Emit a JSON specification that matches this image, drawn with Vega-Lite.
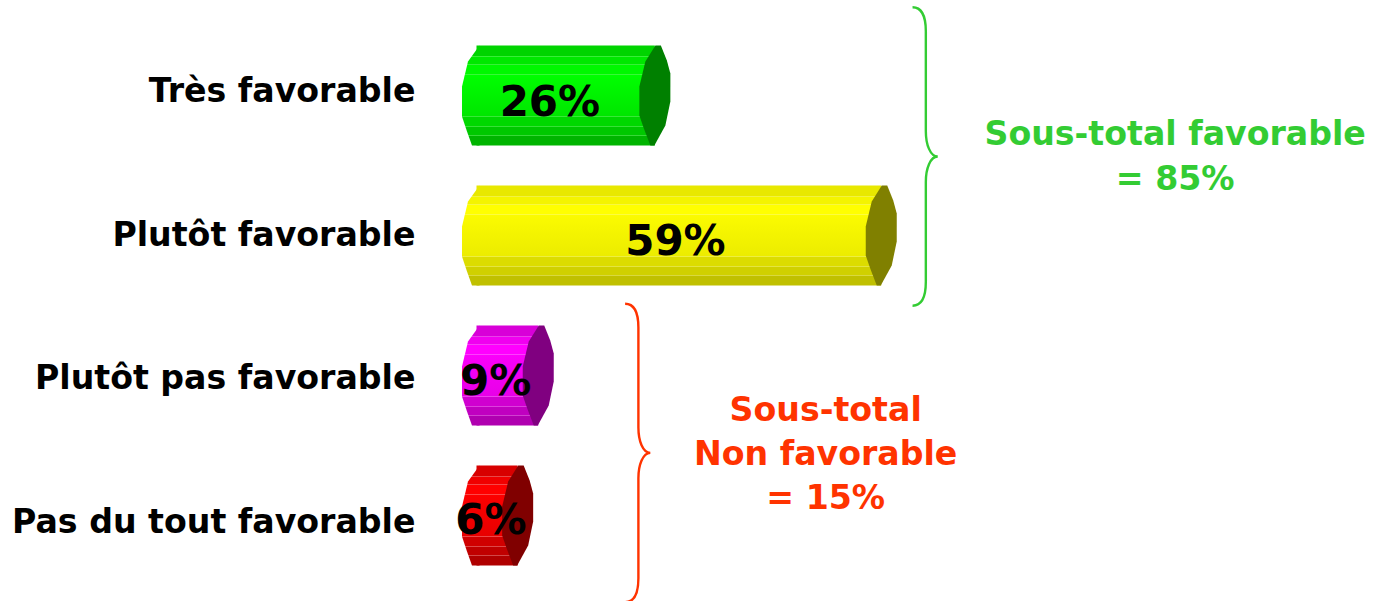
{"$schema":"https://vega.github.io/schema/vega-lite/v6.json","autosize":{"type":"none"},"padding":{"left":462,"top":0,"right":0,"bottom":0},"width":918,"height":601,"background":"white","view":{"stroke":null},"config":{"text":{"font":"DejaVu Sans","fontWeight":"bold"}},"datasets":{"reponses":[{"categorie":"Très favorable","valeur":26,"etiquette":"26%"},{"categorie":"Plutôt favorable","valeur":59,"etiquette":"59%"},{"categorie":"Plutôt pas favorable","valeur":9,"etiquette":"9%"},{"categorie":"Pas du tout favorable","valeur":6,"etiquette":"6%"}],"sous_totaux":[{"groupe":"Favorable","sous_total":85,"texte":"Sous-total favorable\n= 85%"},{"groupe":"Non favorable","sous_total":15,"texte":"Sous-total\nNon favorable\n= 15%"}]},"encoding":{"x":{"type":"quantitative","scale":{"domain":[-2.114,131.706],"nice":false,"zero":false},"axis":null}},"resolve":{"scale":{"y":"independent"}},"layer":[{"data":{"name":"reponses"},"mark":{"type":"point","opacity":0},"encoding":{"x":{"datum":0},"y":{"field":"categorie","type":"nominal","sort":null,"scale":{"domain":["Très favorable","Plutôt favorable","Plutôt pas favorable","Pas du tout favorable"],"range":[19.65,594.35],"paddingInner":0,"paddingOuter":0},"axis":{"title":null,"domain":false,"ticks":false,"grid":false,"labelPadding":47,"labelFont":"DejaVu Sans","labelFontWeight":"bold","labelFontSize":33.2,"labelColor":"#000000","labelLimit":500}}}},{"data":{"name":"reponses"},"encoding":{"y":{"field":"categorie","type":"nominal","sort":null,"scale":{"domain":["Très favorable","Plutôt favorable","Plutôt pas favorable","Pas du tout favorable"],"range":[25.5,585.5],"paddingInner":0.2857,"paddingOuter":0.1429},"axis":null}},"layer":[{"transform":[{"filter":"datum.categorie === 'Très favorable'"}],"layer":[{"mark":{"type":"bar","fill":{"gradient":"linear","x1":0,"y1":0,"x2":0,"y2":1,"stops":[{"offset":0,"color":"#00d400"},{"offset":0.105,"color":"#00d400"},{"offset":0.105,"color":"#38ee38"},{"offset":0.115,"color":"#38ee38"},{"offset":0.115,"color":"#00e800"},{"offset":0.185,"color":"#00e800"},{"offset":0.185,"color":"#38f038"},{"offset":0.195,"color":"#38f038"},{"offset":0.195,"color":"#00f800"},{"offset":0.285,"color":"#00f800"},{"offset":0.285,"color":"#38f838"},{"offset":0.295,"color":"#38f838"},{"offset":0.295,"color":"#00ff00"},{"offset":0.705,"color":"#00e600"},{"offset":0.705,"color":"#38e838"},{"offset":0.715,"color":"#38e838"},{"offset":0.715,"color":"#00d800"},{"offset":0.805,"color":"#00d800"},{"offset":0.805,"color":"#38e038"},{"offset":0.815,"color":"#38e038"},{"offset":0.815,"color":"#00c800"},{"offset":0.895,"color":"#00c800"},{"offset":0.895,"color":"#38d838"},{"offset":0.905,"color":"#38d838"},{"offset":0.905,"color":"#00b400"},{"offset":1,"color":"#00b400"}]}},"encoding":{"x":{"field":"valeur","type":"quantitative"}}},{"mark":{"type":"point","filled":true,"opacity":1,"size":10000,"shape":"M0.06 -1L-0.17 -0.68L-0.29 -0.18L-0.29 0.42L-0.19 0.72L-0.09 1L0.06 1Z","fill":{"gradient":"linear","x1":0,"y1":0,"x2":0,"y2":1,"stops":[{"offset":0,"color":"#00d400"},{"offset":0.105,"color":"#00d400"},{"offset":0.105,"color":"#38ee38"},{"offset":0.115,"color":"#38ee38"},{"offset":0.115,"color":"#00e800"},{"offset":0.185,"color":"#00e800"},{"offset":0.185,"color":"#38f038"},{"offset":0.195,"color":"#38f038"},{"offset":0.195,"color":"#00f800"},{"offset":0.285,"color":"#00f800"},{"offset":0.285,"color":"#38f838"},{"offset":0.295,"color":"#38f838"},{"offset":0.295,"color":"#00ff00"},{"offset":0.705,"color":"#00e600"},{"offset":0.705,"color":"#38e838"},{"offset":0.715,"color":"#38e838"},{"offset":0.715,"color":"#00d800"},{"offset":0.805,"color":"#00d800"},{"offset":0.805,"color":"#38e038"},{"offset":0.815,"color":"#38e038"},{"offset":0.815,"color":"#00c800"},{"offset":0.895,"color":"#00c800"},{"offset":0.895,"color":"#38d838"},{"offset":0.905,"color":"#38d838"},{"offset":0.905,"color":"#00b400"},{"offset":1,"color":"#00b400"}]}},"encoding":{"x":{"datum":0}}},{"mark":{"type":"point","filled":true,"opacity":1,"size":10000,"fill":"#008000","shape":"M0.12 -1L0.24 -0.7L0.31 -0.44L0.31 0.12L0.21 0.6L-0.01 1L-0.09 1L-0.22 0.66L-0.31 0.4L-0.31 -0.18L-0.19 -0.68L0.01 -1Z"},"encoding":{"x":{"field":"valeur","type":"quantitative"}}},{"mark":{"type":"text","fontSize":42,"dy":7.5,"color":"#000000"},"encoding":{"x":{"datum":10.7},"text":{"field":"etiquette"}}}]},{"transform":[{"filter":"datum.categorie === 'Plutôt favorable'"}],"layer":[{"mark":{"type":"bar","fill":{"gradient":"linear","x1":0,"y1":0,"x2":0,"y2":1,"stops":[{"offset":0,"color":"#e8e800"},{"offset":0.105,"color":"#e8e800"},{"offset":0.105,"color":"#f2f240"},{"offset":0.115,"color":"#f2f240"},{"offset":0.115,"color":"#f4f400"},{"offset":0.185,"color":"#f4f400"},{"offset":0.185,"color":"#f8f840"},{"offset":0.195,"color":"#f8f840"},{"offset":0.195,"color":"#ffff00"},{"offset":0.285,"color":"#ffff00"},{"offset":0.285,"color":"#fcfc40"},{"offset":0.295,"color":"#fcfc40"},{"offset":0.295,"color":"#fbfb00"},{"offset":0.705,"color":"#ecec00"},{"offset":0.705,"color":"#eeee40"},{"offset":0.715,"color":"#eeee40"},{"offset":0.715,"color":"#dcdc00"},{"offset":0.805,"color":"#dcdc00"},{"offset":0.805,"color":"#e4e440"},{"offset":0.815,"color":"#e4e440"},{"offset":0.815,"color":"#d0d000"},{"offset":0.895,"color":"#d0d000"},{"offset":0.895,"color":"#d8d840"},{"offset":0.905,"color":"#d8d840"},{"offset":0.905,"color":"#c0c000"},{"offset":1,"color":"#c0c000"}]}},"encoding":{"x":{"field":"valeur","type":"quantitative"}}},{"mark":{"type":"point","filled":true,"opacity":1,"size":10000,"shape":"M0.06 -1L-0.17 -0.68L-0.29 -0.18L-0.29 0.42L-0.19 0.72L-0.09 1L0.06 1Z","fill":{"gradient":"linear","x1":0,"y1":0,"x2":0,"y2":1,"stops":[{"offset":0,"color":"#e8e800"},{"offset":0.105,"color":"#e8e800"},{"offset":0.105,"color":"#f2f240"},{"offset":0.115,"color":"#f2f240"},{"offset":0.115,"color":"#f4f400"},{"offset":0.185,"color":"#f4f400"},{"offset":0.185,"color":"#f8f840"},{"offset":0.195,"color":"#f8f840"},{"offset":0.195,"color":"#ffff00"},{"offset":0.285,"color":"#ffff00"},{"offset":0.285,"color":"#fcfc40"},{"offset":0.295,"color":"#fcfc40"},{"offset":0.295,"color":"#fbfb00"},{"offset":0.705,"color":"#ecec00"},{"offset":0.705,"color":"#eeee40"},{"offset":0.715,"color":"#eeee40"},{"offset":0.715,"color":"#dcdc00"},{"offset":0.805,"color":"#dcdc00"},{"offset":0.805,"color":"#e4e440"},{"offset":0.815,"color":"#e4e440"},{"offset":0.815,"color":"#d0d000"},{"offset":0.895,"color":"#d0d000"},{"offset":0.895,"color":"#d8d840"},{"offset":0.905,"color":"#d8d840"},{"offset":0.905,"color":"#c0c000"},{"offset":1,"color":"#c0c000"}]}},"encoding":{"x":{"datum":0}}},{"mark":{"type":"point","filled":true,"opacity":1,"size":10000,"fill":"#808000","shape":"M0.12 -1L0.24 -0.7L0.31 -0.44L0.31 0.12L0.21 0.6L-0.01 1L-0.09 1L-0.22 0.66L-0.31 0.4L-0.31 -0.18L-0.19 -0.68L0.01 -1Z"},"encoding":{"x":{"field":"valeur","type":"quantitative"}}},{"mark":{"type":"text","fontSize":42,"dy":6,"color":"#000000"},"encoding":{"x":{"datum":29},"text":{"field":"etiquette"}}}]},{"transform":[{"filter":"datum.categorie === 'Plutôt pas favorable'"}],"layer":[{"mark":{"type":"bar","fill":{"gradient":"linear","x1":0,"y1":0,"x2":0,"y2":1,"stops":[{"offset":0,"color":"#d800d8"},{"offset":0.105,"color":"#d800d8"},{"offset":0.105,"color":"#e840e8"},{"offset":0.115,"color":"#e840e8"},{"offset":0.115,"color":"#f000f0"},{"offset":0.185,"color":"#f000f0"},{"offset":0.185,"color":"#f440f4"},{"offset":0.195,"color":"#f440f4"},{"offset":0.195,"color":"#ff00ff"},{"offset":0.285,"color":"#ff00ff"},{"offset":0.285,"color":"#fc40fc"},{"offset":0.295,"color":"#fc40fc"},{"offset":0.295,"color":"#fa00fa"},{"offset":0.705,"color":"#e800e8"},{"offset":0.705,"color":"#ec40ec"},{"offset":0.715,"color":"#ec40ec"},{"offset":0.715,"color":"#d000d0"},{"offset":0.805,"color":"#d000d0"},{"offset":0.805,"color":"#dc40dc"},{"offset":0.815,"color":"#dc40dc"},{"offset":0.815,"color":"#c000c0"},{"offset":0.895,"color":"#c000c0"},{"offset":0.895,"color":"#d040d0"},{"offset":0.905,"color":"#d040d0"},{"offset":0.905,"color":"#b000b0"},{"offset":1,"color":"#b000b0"}]}},"encoding":{"x":{"field":"valeur","type":"quantitative"}}},{"mark":{"type":"point","filled":true,"opacity":1,"size":10000,"shape":"M0.06 -1L-0.17 -0.68L-0.29 -0.18L-0.29 0.42L-0.19 0.72L-0.09 1L0.06 1Z","fill":{"gradient":"linear","x1":0,"y1":0,"x2":0,"y2":1,"stops":[{"offset":0,"color":"#d800d8"},{"offset":0.105,"color":"#d800d8"},{"offset":0.105,"color":"#e840e8"},{"offset":0.115,"color":"#e840e8"},{"offset":0.115,"color":"#f000f0"},{"offset":0.185,"color":"#f000f0"},{"offset":0.185,"color":"#f440f4"},{"offset":0.195,"color":"#f440f4"},{"offset":0.195,"color":"#ff00ff"},{"offset":0.285,"color":"#ff00ff"},{"offset":0.285,"color":"#fc40fc"},{"offset":0.295,"color":"#fc40fc"},{"offset":0.295,"color":"#fa00fa"},{"offset":0.705,"color":"#e800e8"},{"offset":0.705,"color":"#ec40ec"},{"offset":0.715,"color":"#ec40ec"},{"offset":0.715,"color":"#d000d0"},{"offset":0.805,"color":"#d000d0"},{"offset":0.805,"color":"#dc40dc"},{"offset":0.815,"color":"#dc40dc"},{"offset":0.815,"color":"#c000c0"},{"offset":0.895,"color":"#c000c0"},{"offset":0.895,"color":"#d040d0"},{"offset":0.905,"color":"#d040d0"},{"offset":0.905,"color":"#b000b0"},{"offset":1,"color":"#b000b0"}]}},"encoding":{"x":{"datum":0}}},{"mark":{"type":"point","filled":true,"opacity":1,"size":10000,"fill":"#800080","shape":"M0.12 -1L0.24 -0.7L0.31 -0.44L0.31 0.12L0.21 0.6L-0.01 1L-0.09 1L-0.22 0.66L-0.31 0.4L-0.31 -0.18L-0.19 -0.68L0.01 -1Z"},"encoding":{"x":{"field":"valeur","type":"quantitative"}}},{"mark":{"type":"text","fontSize":42,"dy":6.5,"color":"#000000"},"encoding":{"x":{"datum":2.8},"text":{"field":"etiquette"}}}]},{"transform":[{"filter":"datum.categorie === 'Pas du tout favorable'"}],"layer":[{"mark":{"type":"bar","fill":{"gradient":"linear","x1":0,"y1":0,"x2":0,"y2":1,"stops":[{"offset":0,"color":"#d80000"},{"offset":0.105,"color":"#d80000"},{"offset":0.105,"color":"#e84848"},{"offset":0.115,"color":"#e84848"},{"offset":0.115,"color":"#f00000"},{"offset":0.185,"color":"#f00000"},{"offset":0.185,"color":"#f44848"},{"offset":0.195,"color":"#f44848"},{"offset":0.195,"color":"#ff0000"},{"offset":0.285,"color":"#ff0000"},{"offset":0.285,"color":"#fc4848"},{"offset":0.295,"color":"#fc4848"},{"offset":0.295,"color":"#fc0000"},{"offset":0.705,"color":"#e80000"},{"offset":0.705,"color":"#ec4848"},{"offset":0.715,"color":"#ec4848"},{"offset":0.715,"color":"#d00000"},{"offset":0.805,"color":"#d00000"},{"offset":0.805,"color":"#dc4848"},{"offset":0.815,"color":"#dc4848"},{"offset":0.815,"color":"#c00000"},{"offset":0.895,"color":"#c00000"},{"offset":0.895,"color":"#d04848"},{"offset":0.905,"color":"#d04848"},{"offset":0.905,"color":"#b00000"},{"offset":1,"color":"#b00000"}]}},"encoding":{"x":{"field":"valeur","type":"quantitative"}}},{"mark":{"type":"point","filled":true,"opacity":1,"size":10000,"shape":"M0.06 -1L-0.17 -0.68L-0.29 -0.18L-0.29 0.42L-0.19 0.72L-0.09 1L0.06 1Z","fill":{"gradient":"linear","x1":0,"y1":0,"x2":0,"y2":1,"stops":[{"offset":0,"color":"#d80000"},{"offset":0.105,"color":"#d80000"},{"offset":0.105,"color":"#e84848"},{"offset":0.115,"color":"#e84848"},{"offset":0.115,"color":"#f00000"},{"offset":0.185,"color":"#f00000"},{"offset":0.185,"color":"#f44848"},{"offset":0.195,"color":"#f44848"},{"offset":0.195,"color":"#ff0000"},{"offset":0.285,"color":"#ff0000"},{"offset":0.285,"color":"#fc4848"},{"offset":0.295,"color":"#fc4848"},{"offset":0.295,"color":"#fc0000"},{"offset":0.705,"color":"#e80000"},{"offset":0.705,"color":"#ec4848"},{"offset":0.715,"color":"#ec4848"},{"offset":0.715,"color":"#d00000"},{"offset":0.805,"color":"#d00000"},{"offset":0.805,"color":"#dc4848"},{"offset":0.815,"color":"#dc4848"},{"offset":0.815,"color":"#c00000"},{"offset":0.895,"color":"#c00000"},{"offset":0.895,"color":"#d04848"},{"offset":0.905,"color":"#d04848"},{"offset":0.905,"color":"#b00000"},{"offset":1,"color":"#b00000"}]}},"encoding":{"x":{"datum":0}}},{"mark":{"type":"point","filled":true,"opacity":1,"size":10000,"fill":"#800000","shape":"M0.12 -1L0.24 -0.7L0.31 -0.44L0.31 0.12L0.21 0.6L-0.01 1L-0.09 1L-0.22 0.66L-0.31 0.4L-0.31 -0.18L-0.19 -0.68L0.01 -1Z"},"encoding":{"x":{"field":"valeur","type":"quantitative"}}},{"mark":{"type":"text","fontSize":42,"dy":6,"color":"#000000"},"encoding":{"x":{"datum":2.1},"text":{"field":"etiquette"}}}]}]},{"data":{"name":"sous_totaux"},"encoding":{"y":{"type":"quantitative","scale":{"domain":[-0.682,3.611],"reverse":true,"nice":false,"zero":false},"axis":null}},"layer":[{"transform":[{"filter":"datum.groupe === 'Favorable'"}],"layer":[{"mark":{"type":"point","filled":false,"opacity":1,"size":89042,"strokeWidth":2.4,"stroke":"#33cc33","shape":"M-0.089 -1C-0.035 -1 0 -0.95 0 -0.84L0 -0.17C0 -0.08 0.03 0 0.08 0C0.03 0 0 0.08 0 0.17L0 0.84C0 0.95 -0.035 1 -0.089 1"},"encoding":{"x":{"datum":65.5},"y":{"datum":0.436}}},{"mark":{"type":"text","fontSize":33.2,"lineBreak":"\n","lineHeight":45,"dy":-22,"color":"#33cc33"},"encoding":{"x":{"datum":101.85},"y":{"datum":0.436},"text":{"field":"texte"}}}]},{"transform":[{"filter":"datum.groupe === 'Non favorable'"}],"layer":[{"mark":{"type":"point","filled":false,"opacity":1,"size":89042,"strokeWidth":2.4,"stroke":"#ff3300","shape":"M-0.089 -1C-0.035 -1 0 -0.95 0 -0.84L0 -0.17C0 -0.08 0.03 0 0.08 0C0.03 0 0 0.08 0 0.17L0 0.84C0 0.95 -0.035 1 -0.089 1"},"encoding":{"x":{"datum":23.6},"y":{"datum":2.553}}},{"mark":{"type":"text","fontSize":33.2,"lineBreak":"\n","lineHeight":44,"dy":-43,"color":"#ff3300"},"encoding":{"x":{"datum":50.9},"y":{"datum":2.561},"text":{"field":"texte"}}}]}]}]}
